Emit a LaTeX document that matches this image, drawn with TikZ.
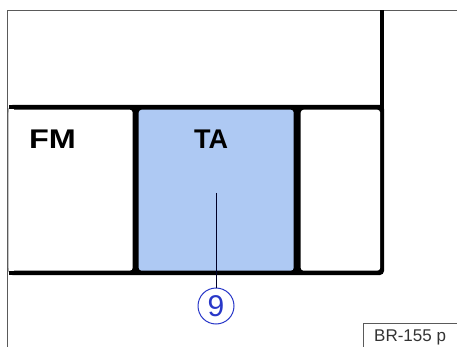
\documentclass[tikz,border=0pt]{standalone}
\usepackage{fontspec}
\setmainfont{Liberation Sans}
\definecolor{cellblue}{RGB}{174,201,243}
\definecolor{markblue}{RGB}{40,55,200}
\definecolor{framegray}{RGB}{90,90,90}
\begin{document}
\begin{tikzpicture}[x=1pt,y=-1pt,
  cellbox/.style={draw=none,rounded corners=3pt,inner sep=0pt},
  celltext/.style={anchor=base west,inner sep=0pt,font=\bfseries\fontsize{27}{27}\selectfont},
  callout/.style={circle,draw=markblue,line width=1pt,minimum size=36pt,inner sep=0pt,text=markblue,font=\fontsize{30}{30}\selectfont},
  thinframe/.style={draw=framegray,line width=1.5pt},
  thick black/.style={draw=black,line width=3.5pt}]
\useasboundingbox (0,0) rectangle (457,347);
% outer thin frame
\draw[thinframe] (457,10.5) -- (7.5,10.5) -- (7.5,347);
% black band behind lower cells
\fill[black,rounded corners=4pt] (8.5,105) -- (384,105) -- (384,275) -- (8.5,275) -- cycle;
\fill[black] (8.5,105) rectangle (20,275);
% right thick vertical of top box
\draw[thick black] (382,10.5) -- (382,110);
% lower cells
\node[cellbox,fill=white,minimum width=124pt,minimum height=161pt,anchor=north west] (fm) at (8.5,109.5) {};
\node[cellbox,fill=cellblue,minimum width=155pt,minimum height=161pt,anchor=north west] (ta) at (138.5,109.5) {};
\node[cellbox,fill=white,minimum width=79.5pt,minimum height=161pt,anchor=north west] (third) at (300.5,109.5) {};
\fill[white] (8.5,109.5) rectangle (14,270.5);
\draw[thinframe] (7.5,100) -- (7.5,280);
% labels
\node[celltext] (fmlabel) at (29,148.5) {\scalebox{1.2}[1]{FM}};
\node[celltext] (talabel) at (194,148.5) {TA};
% callout
\coordinate (tapoint) at (216,193);
\node[callout] (n9) at (216,306) {9};
\draw[line width=0.8pt,black!85!blue] (tapoint) -- (n9.north);
% reference box
\draw[line width=1pt,framegray] (457,323) -- (363.5,323) -- (363.5,347);
\node[anchor=base west,inner sep=0pt,text=black!80,font=\fontsize{17}{17}\selectfont] (br) at (374,341) {BR-155 p};
\end{tikzpicture}
\end{document}
